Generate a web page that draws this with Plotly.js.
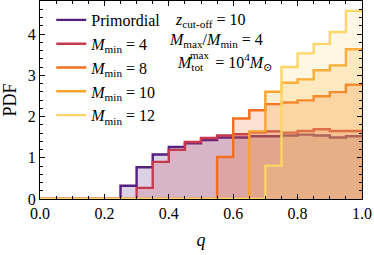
<!DOCTYPE html>
<html><head><meta charset="utf-8">
<script src="https://cdn.plot.ly/plotly-3.0.1.min.js"></script>
<style>html,body{margin:0;padding:0;background:#fff}</style>
</head><body><div id="plot" style="width:374px;height:255px"></div>
<script>
// bin left edges (width 0.05) from 0.00 to 0.95, plus right edge 1.0
const binEdges = [0.00,0.05,0.10,0.15,0.20,0.25,0.30,0.35,0.40,0.45,0.50,0.55,0.60,0.65,0.70,0.75,0.80,0.85,0.90,0.95,1.00];
const primordial = [0,0,0,0,0,0.32,0.77,1.08,1.26,1.35,1.43,1.49,1.49,1.52,1.52,1.54,1.56,1.54,1.49,1.52];
const mmin4  = [0,0,0,0,0,0,0.27,0.90,1.19,1.38,1.48,1.54,1.57,1.62,1.64,1.61,1.65,1.69,1.65,1.65];
const mmin8  = [0,0,0,0,0,0,0,0,0,0,0,1.02,1.95,2.15,2.30,2.34,2.39,2.49,2.59,2.77];
const mmin10 = [0,0,0,0,0,0,0,0,0,0,0,0,0,1.64,2.60,2.82,2.90,3.12,3.24,3.63];
const mmin12 = [0,0,0,0,0,0,0,0,0,0,0,0,0,0,0.81,3.20,3.53,3.76,4.05,4.56];
const seriesNames = ['Primordial','<i>M</i><sub>min</sub> = 4','<i>M</i><sub>min</sub> = 8','<i>M</i><sub>min</sub> = 10','<i>M</i><sub>min</sub> = 12'];
const seriesData = [primordial, mmin4, mmin8, mmin10, mmin12];
const lineColors = ['#56207f','#c63a4f','#f26f1f','#f9a32c','#fdd667'];
const fillColors = ['rgba(86,32,127,0.2)','rgba(198,58,79,0.2)','rgba(242,111,31,0.2)','rgba(249,163,44,0.2)','rgba(253,214,103,0.2)'];

const FONT = "'Liberation Serif', 'DejaVu Serif', serif";
const traces = [];
seriesData.forEach((vals, i) => {
  traces.push({
    x: binEdges, y: vals.concat([vals[vals.length-1]]),
    type: 'scatter', mode: 'lines', line: {shape: 'hv', color: lineColors[i], width: 2.4},
    fill: 'tozeroy', fillcolor: fillColors[i], showlegend: false, hoverinfo: 'skip'
  });
});
seriesData.forEach((vals, i) => {
  traces.push({
    x: [null], y: [null], type: 'scatter', mode: 'lines', name: seriesNames[i],
    line: {color: lineColors[i], width: 2.4}, showlegend: true
  });
});

const axisCommon = {
  showline: true, linecolor: '#000', linewidth: 1, mirror: 'ticks',
  ticks: 'inside', ticklen: 5, tickwidth: 1, tickcolor: '#000',
  showgrid: false, zeroline: false,
  tickfont: {family: FONT, size: 16, color: '#000'}
};
const annFont = {family: FONT, size: 16, color: '#000'};
const layout = {
  width: 374, height: 255,
  margin: {l: 40, r: 12, t: 1, b: 56},
  paper_bgcolor: '#fff', plot_bgcolor: '#fff',
  font: {family: FONT, size: 16, color: '#000'},
  xaxis: Object.assign({}, axisCommon, {
    range: [0, 1], tickvals: [0,0.2,0.4,0.6,0.8,1.0], ticktext: ['0.0','0.2','0.4','0.6','0.8','1.0'],
    minor: {dtick: 0.05, ticks: 'inside', ticklen: 3, tickcolor: '#000'},
    title: {text: '<i>q</i>', font: {family: FONT, size: 18}, standoff: 12}
  }),
  yaxis: Object.assign({}, axisCommon, {
    range: [0, 4.8], tickvals: [0,1,2,3,4],
    minor: {dtick: 0.2, ticks: 'inside', ticklen: 3, tickcolor: '#000'},
    title: {text: 'PDF', font: {family: FONT, size: 18}, standoff: 6}
  }),
  legend: {x: 0.035, y: 0.99, xanchor: 'left', yanchor: 'top', bgcolor: 'rgba(0,0,0,0)',
    font: {family: FONT, size: 16}, tracegroupgap: 0, itemwidth: 30},
  annotations: [
    {xref: 'paper', yref: 'paper', x: 0.413, y: 0.904, xanchor: 'left', yanchor: 'middle', showarrow: false,
     text: '<i>z</i><sub>cut-off</sub> = 10', font: annFont},
    {xref: 'paper', yref: 'paper', x: 0.394, y: 0.803, xanchor: 'left', yanchor: 'middle', showarrow: false,
     text: '<i>M</i><sub>max</sub>/<i>M</i><sub>min</sub> = 4', font: annFont},
    {xref: 'paper', yref: 'paper', x: 0.419, y: 0.692, xanchor: 'left', yanchor: 'middle', showarrow: false,
     text: '<i>M</i><sub>tot</sub>&nbsp;&nbsp;&nbsp;= 10<sup>4</sup><i>M</i><sub>⊙</sub>', font: annFont},
    {xref: 'paper', yref: 'paper', x: 0.419, y: 0.692, xanchor: 'left', yanchor: 'middle', showarrow: false,
     xshift: 13, yshift: 7, text: 'max', font: {family: FONT, size: 11, color: '#000'}}
  ]
};
Plotly.newPlot('plot', traces, layout, {staticPlot: true, displayModeBar: false});
</script></body></html>
